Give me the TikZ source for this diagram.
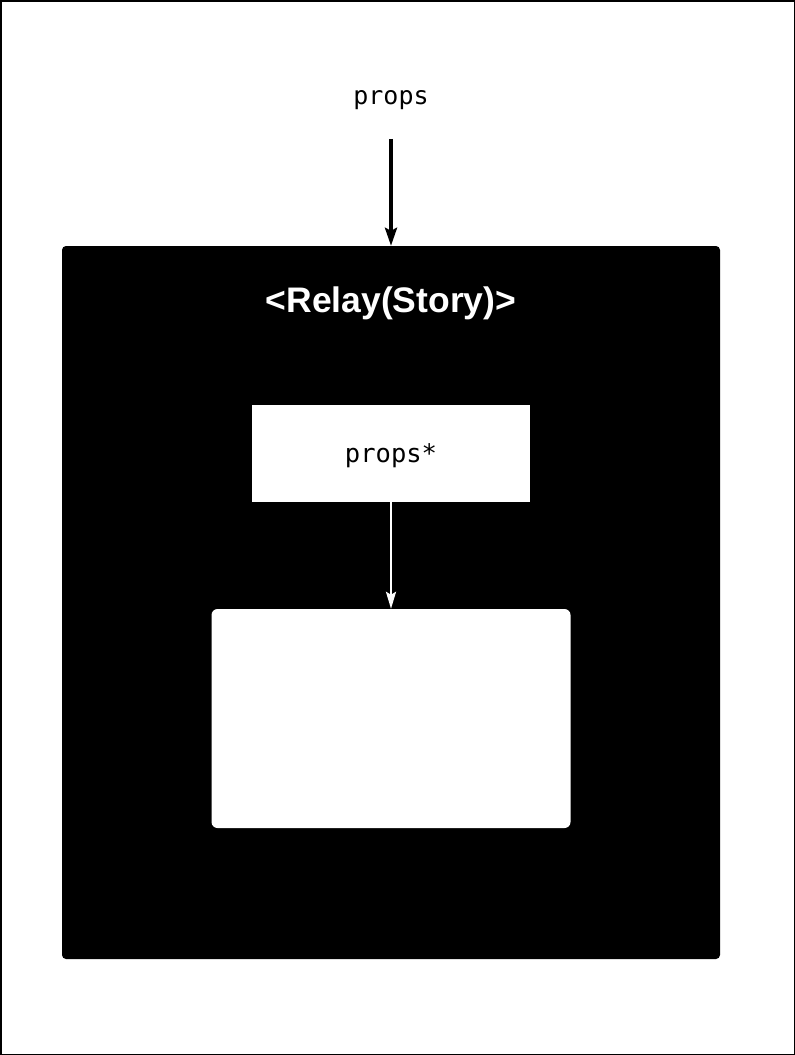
\documentclass[tikz,border=0pt]{standalone}
\usepackage{fontspec}
\setsansfont{Liberation Sans}
\setmonofont{DejaVu Sans Mono}
\usetikzlibrary{arrows.meta,positioning}
\tikzstyle{arrow} = [line width=3.5pt, -{Stealth[length=18pt,width=12pt,inset=3pt]}]
\tikzstyle{warrow} = [white, line width=2.5pt, -{Stealth[length=17pt,width=10pt,inset=3pt]}]
\tikzstyle{relaybox} = [fill=black, rounded corners=4pt, inner sep=0pt]
\tikzstyle{propsbox} = [fill=white, inner sep=0pt, font=\ttfamily\fontsize{25.5}{30}\selectfont]
\tikzstyle{storybox} = [fill=white, rounded corners=6pt, inner sep=0pt]

\begin{document}
\begin{tikzpicture}[x=1pt,y=-1pt]
\useasboundingbox (0,0) rectangle (795,1055);
\draw[line width=1.5pt] (0.75,0.75) rectangle (794.25,1054.25);

\node[inner sep=0pt, font=\ttfamily\fontsize{25}{30}\selectfont] (props) at (391,100) {props};
\node[relaybox, minimum width=658pt, minimum height=713pt] (relay) at (391,602.5) {};
\node[white, font=\sffamily\bfseries\fontsize{35.5}{40}\selectfont] (title) at (391,303) {<Relay(Story)>};
\node[propsbox, minimum width=278pt, minimum height=97pt, text depth=0pt] (inprops) at (391,453.5) {props*};
\node[storybox, minimum width=359pt, minimum height=219pt] (story) at (391,718.5) {};

\draw[arrow, shorten <=29pt] (props.south) -- (relay.north);
\draw[warrow] (inprops.south) -- (story.north);
\end{tikzpicture}
\end{document}
